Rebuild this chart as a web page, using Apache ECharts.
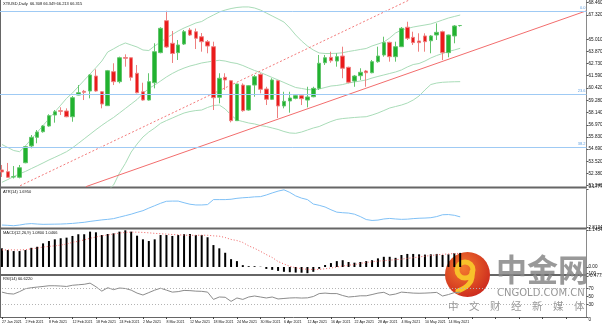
<!DOCTYPE html>
<html>
<head>
<meta charset="utf-8">
<title>XTIUSD Daily</title>
<script src="https://cdn.jsdelivr.net/npm/echarts@6/dist/echarts.min.js"></script>
<style>
html,body{margin:0;padding:0;background:#fff;}
#chart{width:602px;height:325px;}
</style>
</head>
<body>
<div id="chart"></div>
<script>
// Trading days
const dates = [
 '27 Jan 2021','28 Jan 2021','29 Jan 2021','1 Feb 2021','2 Feb 2021','3 Feb 2021','4 Feb 2021','5 Feb 2021',
 '8 Feb 2021','9 Feb 2021','10 Feb 2021','11 Feb 2021','12 Feb 2021','15 Feb 2021','16 Feb 2021','17 Feb 2021',
 '18 Feb 2021','19 Feb 2021','22 Feb 2021','23 Feb 2021','24 Feb 2021','25 Feb 2021','26 Feb 2021','1 Mar 2021',
 '2 Mar 2021','3 Mar 2021','4 Mar 2021','5 Mar 2021','8 Mar 2021','9 Mar 2021','10 Mar 2021','11 Mar 2021',
 '12 Mar 2021','15 Mar 2021','16 Mar 2021','17 Mar 2021','18 Mar 2021','19 Mar 2021','22 Mar 2021','23 Mar 2021',
 '24 Mar 2021','25 Mar 2021','26 Mar 2021','29 Mar 2021','30 Mar 2021','31 Mar 2021','1 Apr 2021','5 Apr 2021',
 '6 Apr 2021','7 Apr 2021','8 Apr 2021','9 Apr 2021','12 Apr 2021','13 Apr 2021','14 Apr 2021','15 Apr 2021',
 '16 Apr 2021','19 Apr 2021','20 Apr 2021','21 Apr 2021','22 Apr 2021','23 Apr 2021','26 Apr 2021','27 Apr 2021',
 '28 Apr 2021','29 Apr 2021','30 Apr 2021','3 May 2021','4 May 2021','5 May 2021','6 May 2021','7 May 2021',
 '10 May 2021','11 May 2021','12 May 2021','13 May 2021','14 May 2021','17 May 2021','18 May 2021'
];

// Daily OHLC
const candleOpen = [
 52.72,52.56,52.06,52.03,53.40,54.98,55.79,56.32,56.86,57.89,
 58.30,58.27,57.73,59.77,60.12,60.15,61.56,60.08,58.77,61.97,
 61.03,63.30,63.28,61.82,60.08,59.30,60.93,63.76,66.77,64.64,
 63.76,64.57,65.89,65.73,65.26,64.79,64.32,59.56,61.44,61.12,
 57.36,60.71,58.36,60.71,61.72,60.34,59.37,61.12,58.74,59.21,
 59.46,59.71,59.30,59.61,60.40,62.81,63.32,62.97,63.44,62.38,
 61.09,61.59,62.03,61.87,62.91,63.54,64.73,63.38,64.32,66.15,
 65.20,64.86,65.33,64.88,65.42,65.73,63.76,65.33,66.308
];
const candleHigh = [
 53.19,53.38,53.09,53.19,54.98,56.01,56.48,56.95,57.96,58.36,
 58.62,58.52,59.68,60.71,60.25,61.75,62.19,60.15,62.13,62.76,
 63.38,63.60,63.30,62.60,60.93,61.82,64.64,66.15,67.70,65.80,
 64.95,65.89,66.08,66.03,65.61,64.95,64.79,61.82,61.82,61.19,
 60.81,60.87,60.71,61.66,61.82,60.55,61.35,61.19,60.08,60.08,
 59.77,59.77,60.55,60.55,63.54,63.54,63.85,63.70,64.32,62.44,
 61.66,62.29,62.13,63.07,64.32,65.26,64.79,64.79,66.17,66.67,
 65.73,65.58,65.58,65.42,66.52,65.83,65.45,66.36,66.349
];
const candleLow = [
 52.06,51.96,51.92,51.93,53.35,54.76,55.23,56.23,56.79,57.17,
 57.89,57.68,57.26,59.75,59.30,59.46,60.08,58.52,58.74,60.71,
 60.87,62.44,61.12,59.93,59.24,59.25,60.40,63.70,64.20,62.79,
 63.07,64.48,65.33,64.10,63.85,63.70,58.36,58.99,60.25,57.20,
 57.33,58.20,58.30,59.61,59.93,58.83,59.30,57.61,58.52,58.11,
 59.37,58.83,58.61,59.56,60.25,62.60,62.81,62.44,61.35,60.87,
 60.55,61.19,60.55,61.82,62.81,63.38,62.91,62.91,64.30,64.95,
 64.48,63.85,63.85,63.70,64.95,63.07,63.32,64.64,66.213
];
const candleClose = [
 52.53,52.03,52.09,52.93,54.91,55.79,56.29,56.86,57.83,58.20,
 58.24,57.73,59.52,59.99,60.03,61.66,60.15,58.93,62.06,61.03,
 63.28,63.23,61.44,59.99,59.30,61.03,63.85,66.05,64.29,63.68,
 64.48,65.73,65.42,65.11,64.79,64.38,59.52,61.35,61.19,57.36,
 60.81,58.30,60.65,61.50,60.31,59.37,61.19,58.74,59.18,59.49,
 59.71,59.43,59.59,60.40,62.76,63.28,63.00,63.38,62.29,60.97,
 61.56,61.91,61.87,62.91,63.44,64.70,63.38,64.32,66.05,65.11,
 64.70,64.70,64.79,65.33,65.67,63.76,65.42,66.27,66.315
];

// Bollinger Bands (20, 2)
const bbUpper = [
 55.12,54.83,54.55,54.44,54.98,55.62,56.26,56.90,57.54,58.18,
 58.81,59.46,59.96,60.56,61.16,61.75,62.35,62.97,63.82,64.12,
 64.43,64.67,64.48,64.29,64.01,63.96,64.39,64.76,65.14,65.47,
 65.80,66.08,66.31,66.55,66.69,67.02,67.30,67.58,67.77,67.91,
 68.01,68.06,68.06,67.96,67.77,67.49,67.21,66.93,66.64,66.08,
 65.42,64.86,64.38,64.01,63.73,63.68,63.68,63.70,63.75,63.87,
 63.96,64.06,64.15,64.39,64.57,64.76,65.14,65.61,65.89,66.03,
 66.17,66.27,66.36,66.46,66.64,66.83,67.02,67.16,67.30
];
const bbMiddle = [
 51.56,51.82,52.10,52.36,52.58,52.85,53.11,53.38,53.66,53.91,
 54.17,54.44,54.80,55.22,55.65,56.08,56.51,56.92,57.30,57.66,
 58.08,58.50,58.93,59.35,59.91,60.39,60.71,61.09,61.47,61.80,
 62.08,62.31,62.50,62.64,62.79,62.88,62.97,63.04,62.97,62.83,
 62.74,62.55,62.31,62.08,61.89,61.66,61.42,61.19,60.95,60.71,
 60.48,60.39,60.29,60.25,60.34,60.48,60.62,60.67,60.76,60.90,
 61.00,61.09,61.19,61.37,61.52,61.66,61.80,61.94,62.13,62.41,
 62.64,62.74,62.97,63.26,63.49,63.68,63.87,64.01,64.17
];
const bbLower = [
 48.01,48.86,49.61,50.27,50.18,50.08,49.99,49.86,49.80,49.65,
 49.52,49.42,49.63,49.89,50.15,50.40,50.67,50.87,50.78,51.30,
 52.43,53.33,54.41,55.16,55.82,56.29,56.67,57.11,57.37,57.61,
 57.85,58.08,58.22,58.31,58.36,58.60,58.79,58.83,58.46,57.89,
 57.42,57.28,57.14,57.05,56.90,56.81,56.67,56.53,56.34,56.20,
 56.17,56.29,56.48,56.67,56.81,57.05,57.28,57.47,57.56,57.61,
 57.66,57.70,57.73,57.89,58.08,58.31,58.55,58.69,58.83,59.02,
 59.30,59.68,60.25,60.76,60.90,60.97,61.00,61.02,61.03
];

// Trend lines as [bar index, price] pairs
const trendSupport = [[14.3, 51.15], [99.4, 67.68]];
const trendChannel = [[3.1, 51.24], [69.3, 68.71]];

// Fibonacci retracement levels
const fibNames = ['0.0', '23.6', '38.2'];
const fibLevels = [67.68, 59.88, 54.90];

// ATR(14)
const atr = [
 1.252,1.236,1.215,1.252,1.306,1.330,1.306,1.290,1.295,1.300,
 1.306,1.320,1.340,1.370,1.400,1.450,1.490,1.530,1.560,1.600,
 1.680,1.760,1.840,1.940,2.030,2.170,2.300,2.430,2.540,2.550,
 2.550,2.460,2.380,2.340,2.340,2.360,2.630,2.630,2.630,2.650,
 2.700,2.730,2.750,2.780,2.790,2.880,2.990,3.090,3.160,3.020,
 2.830,2.710,2.630,2.390,2.320,2.230,2.080,1.950,1.920,1.900,
 1.840,1.710,1.550,1.500,1.520,1.580,1.610,1.580,1.560,1.570,
 1.600,1.620,1.630,1.650,1.710,1.810,1.820,1.780,1.695
];

// MACD(12,26,9): main histogram and signal
const macdMain = [
 1.43,1.30,1.22,1.22,1.30,1.47,1.55,1.81,1.99,2.12,
 2.20,2.25,2.38,2.51,2.51,2.71,2.66,2.45,2.53,2.58,
 2.71,2.8134,2.71,2.40,2.12,1.99,2.12,2.45,2.45,2.38,
 2.45,2.51,2.53,2.45,2.45,2.28,1.68,1.43,1.09,0.60,
 0.45,0.14,0.06,0.06,0.02,-0.15,-0.22,-0.30,-0.37,-0.40,
 -0.43,-0.44,-0.4775,-0.37,-0.14,0.15,0.30,0.45,0.52,0.38,
 0.33,0.38,0.45,0.52,0.66,0.78,0.78,0.70,0.92,1.00,
 1.00,0.97,0.95,0.97,1.00,0.92,0.97,1.06,1.08
];
const macdSignal = [
 1.31,1.31,1.31,1.30,1.33,1.39,1.45,1.53,1.58,1.62,
 1.68,1.76,1.89,1.97,2.08,2.20,2.30,2.39,2.45,2.53,
 2.60,2.65,2.67,2.67,2.65,2.62,2.58,2.55,2.52,2.49,
 2.47,2.44,2.43,2.43,2.44,2.43,2.39,2.36,2.26,2.11,
 2.03,1.88,1.62,1.43,1.20,0.95,0.73,0.42,0.23,0.05,
 -0.06,-0.13,-0.18,-0.19,-0.19,-0.14,-0.08,0.00,0.08,0.13,
 0.19,0.27,0.35,0.40,0.45,0.48,0.52,0.56,0.60,0.66,
 0.71,0.77,0.83,0.88,0.93,0.97,1.00,1.03,1.0466
];

// RSI(14)
const rsi = [
 60.7,57.1,56.0,61.9,69.0,71.4,73.0,74.5,76.2,76.2,
 75.5,74.5,77.4,78.6,79.8,82.6,73.8,63.1,71.4,66.7,
 70.7,69.5,65.5,58.3,53.6,59.5,65.5,70.2,65.5,60.7,
 61.9,64.8,64.3,63.1,62.6,60.7,42.9,48.8,48.1,38.1,
 46.4,42.9,48.8,51.2,48.8,46.4,48.8,44.0,45.2,46.4,
 46.9,46.2,46.7,50.0,57.1,58.3,57.1,57.1,52.4,48.8,
 50.0,51.7,51.7,54.8,58.3,60.2,53.6,56.0,60.7,59.5,
 58.3,57.9,58.3,59.0,60.0,51.2,54.8,59.5,60.622
];

// Right-hand scale labels
const priceTicks = [68.460, 67.320, 65.010, 63.870, 62.730, 61.590, 60.420, 59.280, 58.140, 56.970, 55.830, 54.690, 53.520, 52.380, 51.240];
const atrTicks = [3.1777, 1.1454];
const macdTicks = [2.8134, 0, -0.4775];
const rsiTicks = [100, 70, 50, 30, 0];

const SLOTS = 100;                       // bars plus empty space on the right
const cats = dates.concat(new Array(SLOTS - dates.length).fill(''));
const last = dates.length - 1;
const FONT = '"Liberation Sans", Arial, sans-serif';
const axisTxt = { fontFamily: FONT, fontSize: 4.6, color: '#111' };
const dateTxt = { fontFamily: FONT, fontSize: 3.6, color: '#111' };
const capFont = '4px ' + FONT;

const GL = -1, GR = 15.5;
const grids = [
  { left: GL, right: GR, top: 0, height: 187 },
  { left: GL, right: GR, top: 189.5, height: 37.5 },
  { left: GL, right: GR, top: 230.3, height: 42.9 },
  { left: GL, right: GR, top: 276, height: 41 }
].map(g => Object.assign({ containLabel: false, outerBoundsMode: 'none', show: false }, g));

function catAxis(gi, showLabels) {
  return {
    type: 'category', gridIndex: gi, data: cats, boundaryGap: true,
    axisLine: { show: false },
    axisTick: showLabels ? { show: true, interval: 3, length: 2, alignWithLabel: true, lineStyle: { color: '#444' } } : { show: false },
    axisLabel: showLabels ? Object.assign({ show: true, interval: 3, align: 'left', margin: 2.5, hideOverlap: false,
      showMinLabel: true }, dateTxt) : { show: false },
    splitLine: { show: false }
  };
}
function valAxis(gi, min, max, ticks, fmt, edgeAlign) {
  const label = Object.assign({ show: true, customValues: ticks, formatter: fmt, margin: 2, hideOverlap: false }, axisTxt);
  if (edgeAlign) { label.verticalAlignMaxLabel = 'top'; label.verticalAlignMinLabel = 'bottom'; }
  return {
    type: 'value', gridIndex: gi, position: 'right', min: min, max: max, scale: true,
    axisLine: { show: true, onZero: false, lineStyle: { color: '#8a8a8a', width: 1 } },
    axisTick: { show: true, length: 2, customValues: ticks, lineStyle: { color: '#555' } },
    axisLabel: label,
    splitLine: { show: false }
  };
}

const lastBar = [candleOpen[last], candleHigh[last], candleLow[last], candleClose[last]];

const option = {
  animation: false,
  backgroundColor: '#ffffff',
  grid: grids,
  xAxis: [
    catAxis(0, false),
    { type: 'value', gridIndex: 0, min: -0.5, max: SLOTS - 0.5, show: false },
    catAxis(1, false),
    catAxis(2, false),
    catAxis(3, true)
  ],
  yAxis: [
    valAxis(0, 51.117, 68.714, priceTicks, v => v.toFixed(3), false),
    valAxis(1, 1.1454, 3.1777, atrTicks, v => v.toFixed(4), true),
    valAxis(2, -0.4775, 2.8134, macdTicks, v => (v === 0 ? '0.00' : v.toFixed(4)), true),
    valAxis(3, 0, 100, rsiTicks, v => String(v), true)
  ],
  series: [
    { name: 'BB upper', type: 'line', xAxisIndex: 0, yAxisIndex: 0, data: bbUpper, showSymbol: false, z: 1,
      lineStyle: { color: '#a9dcb8', width: 1 } },
    { name: 'BB middle', type: 'line', xAxisIndex: 0, yAxisIndex: 0, data: bbMiddle, showSymbol: false, z: 1,
      lineStyle: { color: '#a9dcb8', width: 1 } },
    { name: 'BB lower', type: 'line', xAxisIndex: 0, yAxisIndex: 0, data: bbLower, showSymbol: false, z: 1,
      lineStyle: { color: '#a9dcb8', width: 1 } },
    { name: 'Channel', type: 'line', xAxisIndex: 1, yAxisIndex: 0, data: trendChannel, showSymbol: false, z: 1,
      lineStyle: { color: '#f27a7a', width: 1, type: [2, 2] } },
    { name: 'Support', type: 'line', xAxisIndex: 1, yAxisIndex: 0, data: trendSupport, showSymbol: false, z: 1,
      lineStyle: { color: '#f26d6d', width: 1 } },
    {
      name: 'XTIUSD', type: 'candlestick', xAxisIndex: 0, yAxisIndex: 0, z: 3, barWidth: 4,
      data: dates.map((d, i) => [candleOpen[i], candleClose[i], candleLow[i], candleHigh[i]]),
      itemStyle: { color: '#21b22f', color0: '#ea1b1b', borderColor: '#62c56c', borderColor0: '#ee8080', borderWidth: 1 },
      markLine: {
        silent: true, symbol: ['none', 'none'], animation: false,
        data: fibLevels.map((v, k) => ({
          yAxis: v, name: fibNames[k],
          lineStyle: { color: '#9fcaf4', width: 1, type: 'solid' },
          label: { show: true, position: 'insideEndTop', formatter: '{b}', distance: 1,
            fontFamily: FONT, fontSize: 4, color: '#5f9fe0' }
        })).concat([{
          yAxis: candleClose[last],
          lineStyle: { opacity: 0 },
          label: { show: true, position: 'end', distance: 1, formatter: candleClose[last].toFixed(3),
            fontFamily: FONT, fontSize: 4.6, color: '#ffffff', backgroundColor: '#000000', padding: [1, 2, 1, 1] }
        }])
      }
    },
    { name: 'ATR', type: 'line', xAxisIndex: 2, yAxisIndex: 1, data: atr, showSymbol: false,
      lineStyle: { color: '#7fc0f6', width: 1 } },
    { name: 'MACD', type: 'bar', xAxisIndex: 3, yAxisIndex: 2, data: macdMain, barWidth: 2,
      itemStyle: { color: '#000000' } },
    { name: 'Signal', type: 'line', xAxisIndex: 3, yAxisIndex: 2, data: macdSignal, showSymbol: false, z: 3,
      lineStyle: { color: '#f06262', width: 1, type: [1, 2] } },
    { name: 'RSI', type: 'line', xAxisIndex: 4, yAxisIndex: 3, data: rsi, showSymbol: false,
      lineStyle: { color: '#8c8c8c', width: 1 },
      markLine: { silent: true, symbol: ['none', 'none'], label: { show: false },
        lineStyle: { color: '#b4b4b4', width: 1, type: [1, 2] },
        data: [{ yAxis: 70 }, { yAxis: 30 }] } }
  ],
  graphic: [
    // panel frames
    { type: 'line', silent: true, shape: { x1: 0.5, y1: 0, x2: 0.5, y2: 318 }, style: { stroke: '#666', lineWidth: 1 } },
    { type: 'line', silent: true, shape: { x1: 0, y1: 187.5, x2: 587, y2: 187.5 }, style: { stroke: '#666', lineWidth: 2 } },
    { type: 'line', silent: true, shape: { x1: 0, y1: 228.5, x2: 587, y2: 228.5 }, style: { stroke: '#666', lineWidth: 2 } },
    { type: 'line', silent: true, shape: { x1: 0, y1: 275, x2: 587, y2: 275 }, style: { stroke: '#666', lineWidth: 2 } },
    { type: 'line', silent: true, shape: { x1: 0, y1: 317.5, x2: 587, y2: 317.5 }, style: { stroke: '#666', lineWidth: 1 } },
    // panel captions
    { type: 'text', silent: true, left: 3, top: 2,
      style: { text: 'XTIUSD,Daily  ' + lastBar.map(v => v.toFixed(3)).join(' '), font: capFont, fill: '#111' } },
    { type: 'text', silent: true, left: 3, top: 190,
      style: { text: 'ATR(14) ' + atr[last].toFixed(4), font: capFont, fill: '#111' } },
    { type: 'text', silent: true, left: 3, top: 231,
      style: { text: 'MACD(12,26,9) ' + macdMain[last].toFixed(4) + ' ' + macdSignal[last].toFixed(4), font: capFont, fill: '#111' } },
    { type: 'text', silent: true, left: 3, top: 277,
      style: { text: 'RSI(14) ' + rsi[last].toFixed(4), font: capFont, fill: '#111' } },
    // publisher mark
    { type: 'group', z: 100, silent: true, children: [
      { type: 'circle', shape: { cx: 467.5, cy: 274.5, r: 22.5 },
        style: { fill: new echarts.graphic.RadialGradient(0.4, 0.35, 0.75, [
          { offset: 0, color: '#f47a2e' }, { offset: 1, color: '#c8221c' }]) } },
      { type: 'arc', shape: { cx: 465, cy: 270, r: 8, startAngle: 0, endAngle: Math.PI * 2 },
        style: { stroke: '#f8c12a', lineWidth: 5, fill: null } },
      { type: 'bezierCurve', shape: { x1: 472, y1: 272, x2: 458, y2: 291, cpx1: 474, cpy1: 285 },
        style: { stroke: '#f8c12a', lineWidth: 5, fill: null, lineCap: 'round' } },
      { type: 'text', x: 496, y: 254,
        style: { text: '中金网', font: 'bold 31px "Noto Sans CJK SC"', fill: 'rgba(135,135,135,0.85)' } },
      { type: 'text', x: 497, y: 288,
        style: { text: 'CNGOLD.COM.CN', font: '10px "DejaVu Sans"', fill: 'rgba(140,140,140,0.9)' } },
      { type: 'text', x: 448, y: 301,
        style: { text: '中　文　财　经　新　媒　体', font: '10.5px "Noto Sans CJK SC"', fill: 'rgba(140,140,140,0.9)' } }
    ] }
  ]
};

const chart = echarts.init(document.getElementById('chart'), null, { renderer: 'canvas', width: 602, height: 325 });
chart.setOption(option);
</script>
</body>
</html>
